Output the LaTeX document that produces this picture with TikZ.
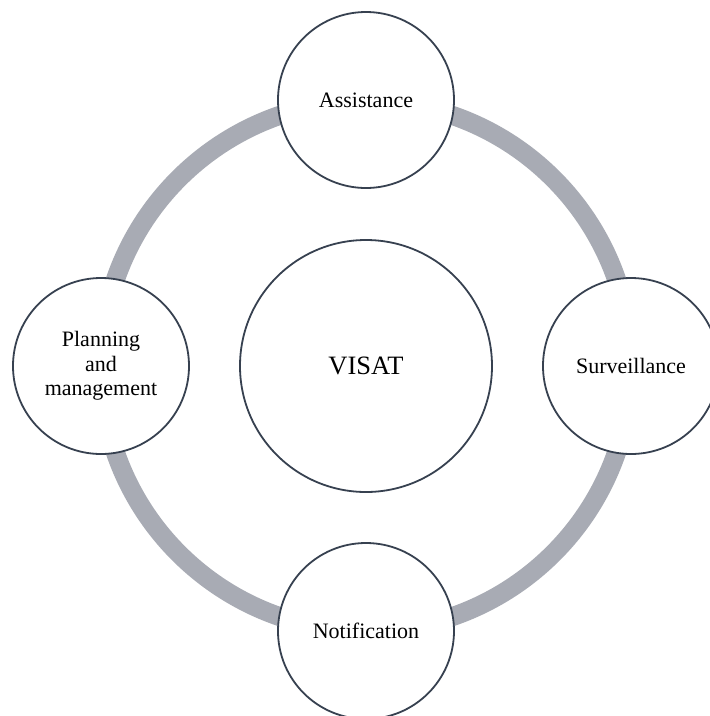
\documentclass[tikz,border=0pt]{standalone}
\usepackage{fontspec}
\setmainfont{Liberation Serif}
\definecolor{ringgray}{RGB}{168,171,180}
\definecolor{edgecol}{RGB}{55,65,80}
\begin{document}
\begin{tikzpicture}[x=1pt,y=-1pt,
  bubble/.style={circle, draw=edgecol, line width=1.8pt, fill=white, minimum size=176pt, inner sep=0pt, align=center, font=\fontsize{22}{24.5}\selectfont},
  ringline/.style={draw=ringgray, line width=19pt}]
\useasboundingbox (0,0) rectangle (710,716);
\clip (0,0) rectangle (710,716);
\fill[white] (0,0) rectangle (710,716);
\coordinate (c) at (366,366);
\draw[ringline] (c) circle[radius=265];
\node[bubble, minimum size=252pt, font=\fontsize{26.5}{30}\selectfont] (visat) at (c) {VISAT};
\node[bubble] (assist) at (366,100) {Assistance};
\node[bubble] (notif) at (366,631) {Notification};
\node[bubble] (plan) at (101,366) {Planning\\and\\management};
\node[bubble] (surv) at (631,366) {Surveillance};
\end{tikzpicture}
\end{document}
